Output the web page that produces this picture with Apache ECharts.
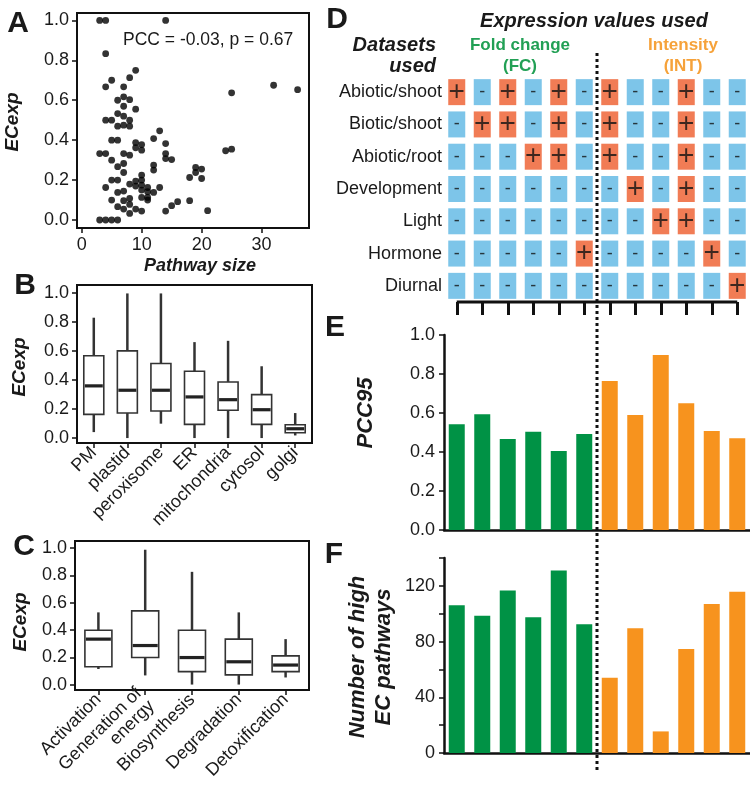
<!DOCTYPE html>
<html>
<head>
<meta charset="utf-8">
<script src="https://cdn.jsdelivr.net/npm/echarts@6/dist/echarts.min.js"></script>
<style>
html,body{margin:0;padding:0;background:#fff;}
#c{width:750px;height:789px;}
</style>
</head>
<body>
<div id="c"></div>
<script>
// ---------- DATA ----------
// Panel A: [pathway size, ECexp]
const scatterPoints = [
 [3,1.0],[4,1.0],[14,1.0],
 [4,0.833],[9,0.75],[5,0.70],[8,0.713],[4,0.667],[7,0.667],
 [32,0.675],[36,0.653],[25,0.637],
 [6,0.60],[7,0.617],[8,0.603],
 [7,0.57],[9,0.555],
 [6,0.533],[7,0.52],
 [4,0.5],[5,0.5],[8,0.5],
 [6,0.47],[7,0.475],[8,0.47],
 [13,0.447],[12,0.408],
 [5,0.4],[6,0.4],
 [14,0.383],
 [9,0.388],[10,0.378],[9,0.362],[10,0.35],
 [24,0.347],[25,0.355],
 [3,0.333],[4,0.333],[7,0.333],[8,0.325],
 [14,0.333],[14,0.308],[15,0.303],
 [5,0.3],[7,0.283],
 [12,0.275],[12,0.25],
 [6,0.267],[7,0.238],
 [19,0.263],[20,0.255],[19,0.238],[18,0.213],[20,0.208],
 [5,0.2],[6,0.2],
 [10,0.225],[10,0.2],[10,0.175],[10,0.15],
 [9,0.195],[9,0.17],[8,0.18],
 [4,0.163],
 [11,0.163],[11,0.142],[12,0.138],[13,0.163],
 [6,0.138],[7,0.145],
 [8,0.108],[10,0.113],[5,0.1],[11,0.113],[11,0.1],
 [7,0.097],[8,0.078],
 [6,0.067],[7,0.055],
 [8,0.033],[9,0.055],[10,0.045],
 [14,0.045],[15,0.072],[16,0.092],
 [18,0.097],[21,0.047],
 [3,0],[4,0],[5,0],[6,0]
];
const scatterXTicks = [0,10,20,30];
const eTicks = [0,0.2,0.4,0.6,0.8,1.0];

// Panel B: [min, Q1, median, Q3, max]
const locCategories = ['PM','plastid','peroxisome','ER','mitochondria','cytosol','golgi'];
const locBoxes = [
 [0.041,0.163,0.359,0.566,0.828],
 [0.0,0.172,0.329,0.60,0.995],
 [0.099,0.186,0.329,0.513,0.995],
 [0.0,0.094,0.283,0.46,0.66],
 [0.0,0.191,0.264,0.386,0.669],
 [0.0,0.094,0.195,0.299,0.494],
 [0.018,0.037,0.064,0.092,0.172]
];

// Panel C
const funcCategories = ['Activation','Generation of\nenergy','Biosynthesis','Degradation','Detoxification'];
const funcBoxes = [
 [0.114,0.131,0.333,0.398,0.529],
 [0.067,0.198,0.286,0.54,0.988],
 [0.0,0.095,0.198,0.398,0.826],
 [0.0,0.071,0.167,0.333,0.529],
 [0.052,0.095,0.143,0.21,0.333]
];

// Panel D
const datasetRows = ['Abiotic/shoot','Biotic/shoot','Abiotic/root','Development','Light','Hormone','Diurnal'];
const dPattern = [
 [1,0,1,0,1,0, 1,0,0,1,0,0],
 [0,1,1,0,1,0, 1,0,0,1,0,0],
 [0,0,0,1,1,0, 1,0,0,1,0,0],
 [0,0,0,0,0,0, 0,1,0,1,0,0],
 [0,0,0,0,0,0, 0,0,1,1,0,0],
 [0,0,0,0,0,1, 0,0,0,0,1,0],
 [0,0,0,0,0,0, 0,0,0,0,0,1]
];
const combos = ['FC1','FC2','FC3','FC4','FC5','FC6','INT1','INT2','INT3','INT4','INT5','INT6'];
const comboIdx = [0,1,2,3,4,5,6,7,8,9,10,11];

// Panel E and F
const pcc95 = [0.542,0.593,0.467,0.504,0.405,0.492, 0.764,0.59,0.897,0.65,0.508,0.47];
const highEC = [106,98.5,116.7,97.5,131,92.5, 54,89.6,15.5,74.6,107,115.7];

// ---------- STYLE ----------
const FONT = 'Liberation Sans, Arial, Helvetica, sans-serif';
const TXT = '#1a1a1a';
const GREEN = '#009245', ORANGE = '#F7931E';
const GREEN_T = '#22A055', ORANGE_T = '#F6A23A';
const BLUE_C = '#5CB6E4', RED_C = '#EE5B2B';

const chart = echarts.init(document.getElementById('c'), null, {renderer:'canvas'});

function tickLabel(extra){
  return Object.assign({color:TXT, fontSize:18, fontFamily:FONT}, extra||{});
}
function boxRender(boxW){
  return function(params, api){
    const x = api.value(0);
    const lo = api.coord([x, api.value(1)]);
    const q1 = api.coord([x, api.value(2)]);
    const md = api.coord([x, api.value(3)]);
    const q3 = api.coord([x, api.value(4)]);
    const hi = api.coord([x, api.value(5)]);
    const cx = lo[0];
    const ls = {stroke:'#333', lineWidth:2.5};
    return {type:'group', children:[
      {type:'line', shape:{x1:cx,y1:hi[1],x2:cx,y2:q3[1]}, style:ls},
      {type:'line', shape:{x1:cx,y1:q1[1],x2:cx,y2:lo[1]}, style:ls},
      {type:'rect', shape:{x:cx-boxW/2,y:q3[1],width:boxW,height:q1[1]-q3[1]}, style:{fill:'#fff',stroke:'#333',lineWidth:1.6}},
      {type:'line', shape:{x1:cx-boxW/2+1,y1:md[1],x2:cx+boxW/2-1,y2:md[1]}, style:{stroke:'#222',lineWidth:3.2}}
    ]};
  };
}

const dData = [];
dPattern.forEach((row, r) => row.forEach((v, c) => dData.push([c, r, v])));

const boxAxisY = (gi, min, max) => ({
  type:'value', gridIndex:gi, min:min, max:max,
  axisLine:{show:false, onZero:false}, splitLine:{show:false},
  axisTick:{show:true, length:5, lineStyle:{color:'#111', width:1.5}, customValues:eTicks},
  axisLabel:tickLabel({customValues:eTicks, margin:8, formatter:v=>v.toFixed(1)})
});

const option = {
  backgroundColor:'#fff',
  animation:false,
  textStyle:{fontFamily:FONT},
  grid:[
    {left:77, top:13, width:232, height:215, show:true, borderColor:'#111', borderWidth:2, backgroundColor:'transparent'},
    {left:77, top:285, width:235, height:158, show:true, borderColor:'#111', borderWidth:2, backgroundColor:'transparent'},
    {left:75, top:541, width:234, height:153, show:true, borderColor:'#111', borderWidth:2, backgroundColor:'transparent'},
    {left:444, top:76, width:307, height:226},
    {left:444, top:335, width:307, height:195},
    {left:444, top:558, width:307, height:195}
  ],
  xAxis:[
    {type:'value', gridIndex:0, min:-0.78, max:37.9, position:'bottom',
     axisLine:{show:false, onZero:false}, splitLine:{show:false},
     axisTick:{show:true, length:5, lineStyle:{color:'#111', width:1.5}, customValues:scatterXTicks},
     axisLabel:tickLabel({customValues:scatterXTicks, margin:8})},
    {type:'category', gridIndex:1, data:locCategories, position:'bottom',
     axisLine:{show:false, onZero:false}, axisTick:{show:true, alignWithLabel:true, length:5, lineStyle:{color:'#111', width:1.5}},
     axisLabel:tickLabel({rotate:45, margin:7, interval:0})},
    {type:'category', gridIndex:2, data:funcCategories, position:'bottom',
     axisLine:{show:false, onZero:false}, axisTick:{show:true, alignWithLabel:true, length:5, lineStyle:{color:'#111', width:1.5}},
     axisLabel:tickLabel({rotate:45, margin:7, interval:0, lineHeight:18})},
    {type:'value', gridIndex:3, min:-0.5, max:11.5, position:'bottom',
     axisLine:{show:false, onZero:false}, splitLine:{show:false}, axisLabel:{show:false},
     axisTick:{show:true, length:13, lineStyle:{color:'#111', width:3}, customValues:comboIdx}},
    {type:'category', gridIndex:4, data:combos,
     axisLine:{show:true, lineStyle:{color:'#111', width:2.5}}, axisTick:{show:false}, axisLabel:{show:false}},
    {type:'category', gridIndex:5, data:combos,
     axisLine:{show:true, lineStyle:{color:'#111', width:2.5}}, axisTick:{show:false}, axisLabel:{show:false}}
  ],
  yAxis:[
    boxAxisY(0, -0.04, 1.037),
    boxAxisY(1, -0.034, 1.053),
    boxAxisY(2, -0.04, 1.052),
    {type:'value', gridIndex:3, min:-0.5, max:6.5, inverse:true,
     axisLine:{show:false, onZero:false}, axisTick:{show:false}, splitLine:{show:false},
     axisLabel:tickLabel({customValues:[0,1,2,3,4,5,6], margin:2, formatter:v=>datasetRows[v]})},
    {type:'value', gridIndex:4, min:0, max:1, interval:0.2,
     axisLine:{show:true, lineStyle:{color:'#111', width:2.5}}, splitLine:{show:false},
     axisTick:{show:true, length:5, lineStyle:{color:'#111', width:1.5}},
     axisLabel:tickLabel({margin:9, formatter:v=>v.toFixed(1)})},
    {type:'value', gridIndex:5, min:0, max:140, interval:20,
     axisLine:{show:true, lineStyle:{color:'#111', width:2.5}}, splitLine:{show:false},
     axisTick:{show:true, length:5, lineStyle:{color:'#111', width:1.5}},
     axisLabel:tickLabel({margin:9, formatter:v=>(v%40===0?String(v):'')})}
  ],
  series:[
    {type:'scatter', xAxisIndex:0, yAxisIndex:0, data:scatterPoints, symbolSize:6.8,
     itemStyle:{color:'#000'}},
    {type:'custom', xAxisIndex:1, yAxisIndex:1, renderItem:boxRender(20),
     data:locBoxes.map((b,i)=>[i].concat(b)), encode:{x:0, y:[1,2,3,4,5]}},
    {type:'custom', xAxisIndex:2, yAxisIndex:2, renderItem:boxRender(27),
     data:funcBoxes.map((b,i)=>[i].concat(b)), encode:{x:0, y:[1,2,3,4,5]}},
    {type:'scatter', xAxisIndex:3, yAxisIndex:3, data:dData, symbol:'rect', symbolSize:[17,26],
     itemStyle:{color:p=>p.value[2]?RED_C:BLUE_C},
     label:{show:true, position:'inside', formatter:p=>p.value[2]?'{p|+}':'{m|-}',
       rich:{p:{fontSize:28, color:'#111', fontFamily:FONT}, m:{fontSize:18, color:'#111', fontFamily:FONT}}}},
    {type:'line', xAxisIndex:3, yAxisIndex:3, data:[[0,6.5],[11,6.5]], symbol:'none', clip:false,
     lineStyle:{color:'#111', width:3}},
    {type:'bar', xAxisIndex:4, yAxisIndex:4, data:pcc95, barWidth:16,
     itemStyle:{color:p=>p.dataIndex<6?GREEN:ORANGE}},
    {type:'bar', xAxisIndex:5, yAxisIndex:5, data:highEC, barWidth:16,
     itemStyle:{color:p=>p.dataIndex<6?GREEN:ORANGE}}
  ]
};
chart.setOption(option);

function txt(text, x, y, o){
  o = o || {};
  return {type:'text', x:x, y:y, rotation:o.rot||0, z:50,
    style:{text:text, fill:o.color||TXT, font:(o.style||'normal')+' '+(o.weight||'normal')+' '+(o.size||17)+'px '+FONT,
      textAlign:o.align||'center', textVerticalAlign:'middle', lineHeight:o.lh}};
}
const BI = {style:'italic', weight:'bold'};
const sepX = chart.convertToPixel({xAxisIndex:3}, 5.5);
const graphics = [
  txt('A',18,24,{weight:'bold',size:30}),
  txt('B',25,286,{weight:'bold',size:30}),
  txt('C',24,547,{weight:'bold',size:30}),
  txt('D',337,20,{weight:'bold',size:30}),
  txt('E',335,328,{weight:'bold',size:30}),
  txt('F',334,555,{weight:'bold',size:30}),
  txt('PCC = -0.03, p = 0.67',123,40,{align:'left',size:17.5}),
  txt('Pathway size',200,266,Object.assign({size:18},BI)),
  txt('ECexp',13,122,Object.assign({size:19,rot:Math.PI/2},BI)),
  txt('ECexp',20,367,Object.assign({size:19,rot:Math.PI/2},BI)),
  txt('ECexp',21,622,Object.assign({size:19,rot:Math.PI/2},BI)),
  txt('PCC95',366,413,Object.assign({size:22,rot:Math.PI/2},BI)),
  txt('Number of high\nEC pathways',371,657,Object.assign({size:22,rot:Math.PI/2,lh:26},BI)),
  txt('Expression values used',594,21,Object.assign({size:20},BI)),
  txt('Datasets',436,45,Object.assign({size:20,align:'right'},BI)),
  txt('used',436,66,Object.assign({size:20,align:'right'},BI)),
  txt('Fold change',520,45,{weight:'bold',size:17,color:GREEN_T}),
  txt('(FC)',520,66,{weight:'bold',size:17,color:GREEN_T}),
  txt('Intensity',683,45,{weight:'bold',size:17,color:ORANGE_T}),
  txt('(INT)',683,66,{weight:'bold',size:17,color:ORANGE_T}),
  {type:'line', z:60, shape:{x1:sepX,y1:53,x2:sepX,y2:770}, style:{stroke:'#111', lineWidth:3, lineDash:[3,3]}}
];
chart.setOption({graphic:graphics});
</script>
</body>
</html>
